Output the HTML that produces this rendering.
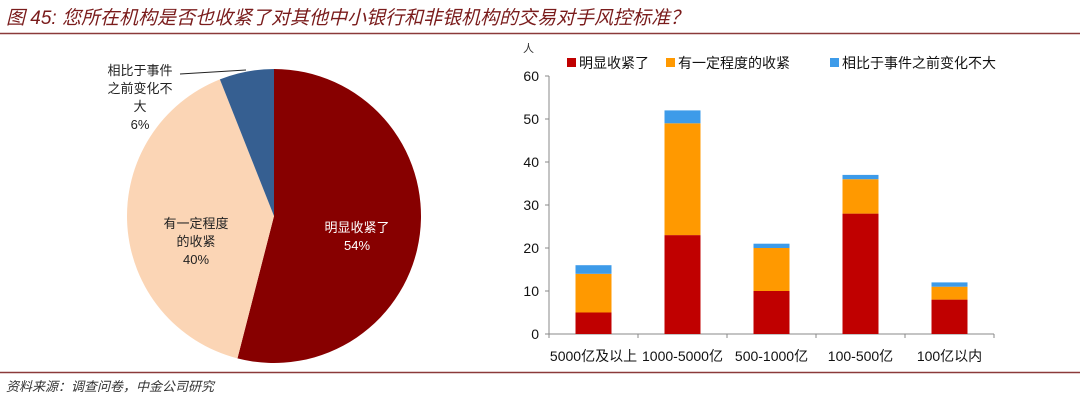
<!DOCTYPE html>
<html><head><meta charset="utf-8"><style>
body{margin:0;width:1080px;height:401px;background:#fff;overflow:hidden;font-family:"Liberation Sans","Noto Sans CJK SC",sans-serif;}
</style></head><body>
<svg width="1080" height="401" xmlns="http://www.w3.org/2000/svg" font-family="Liberation Sans, Noto Sans CJK SC, sans-serif">
<text x="6" y="24" font-size="19" font-style="italic" fill="#7a1c1c">图 45:  您所在机构是否也收紧了对其他中小银行和非银机构的交易对手风控标准？</text>
<line x1="0" y1="33.5" x2="1080" y2="33.5" stroke="#8b3a3a" stroke-width="1.5"/>
<line x1="0" y1="372.5" x2="1080" y2="372.5" stroke="#8b3a3a" stroke-width="1.5"/>
<text x="6" y="391" font-size="13" font-style="italic" fill="#333">资料来源：调查问卷，中金公司研究</text>
<g id="pie"></g>
<g id="bars"></g>
</svg>
<script>
const pieLabels=["明显收紧了","有一定程度的收紧","相比于事件之前变化不大"];
const pieValues=[54,40,6];
const pieColors=["#870000","#fbd5b5","#365f91"];
const cats=["5000亿及以上","1000-5000亿","500-1000亿","100-500亿","100亿以内"];
const sRed=[5,23,10,28,8];
const sOrange=[9,26,10,8,3];
const sBlue=[2,3,1,1,1];
const yTicks=[0,10,20,30,40,50,60];
const NS="http://www.w3.org/2000/svg";
function mk(t,a,p){const e=document.createElementNS(NS,t);for(const k in a)e.setAttribute(k,a[k]);p.appendChild(e);return e;}
// pie
const pie=document.getElementById('pie');
const cx=274,cy=216,R=147;
const tot=pieValues.reduce((a,b)=>a+b,0);
let ang=0;
pieValues.forEach((v,i)=>{
 const a0=ang/tot*2*Math.PI, a1=(ang+v)/tot*2*Math.PI; ang+=v;
 const x0=cx+R*Math.sin(a0),y0=cy-R*Math.cos(a0),x1=cx+R*Math.sin(a1),y1=cy-R*Math.cos(a1);
 const p=mk('path',{d:`M${cx},${cy}L${x0},${y0}A${R},${R} 0 ${a1-a0>Math.PI?1:0} 1 ${x1},${y1}Z`,fill:pieColors[i]},pie);
 
 
});
function lbl(lines,x,y,col,name){const t=mk('text',{x:x,y:y,'font-size':13,fill:col,'text-anchor':'middle'},pie);


lines.forEach((l,i)=>{const s=mk('tspan',{x:x,dy:i?18:0},t);s.textContent=l;});}
lbl(["明显收紧了",pieValues[0]+"%"],357,232,"#fff","slice-label-tightened");
lbl(["有一定程度","的收紧",pieValues[1]+"%"],196,228,"#222","slice-label-somewhat");
lbl(["相比于事件","之前变化不","大",pieValues[2]+"%"],140,75,"#222","slice-label-unchanged");
mk('polyline',{points:"180,74 246,70",stroke:"#222",fill:"none","stroke-width":1},pie);
// bars
const g=document.getElementById('bars');
const X0=549,X1=994,Y0=334,Ytop=76,ymax=60;
const y=v=>Y0-(v/ymax)*(Y0-Ytop);
const step=(X1-X0)/cats.length, bw=36;
const xc=i=>X0+step*(i+0.5);
mk('line',{x1:X0,y1:Ytop,x2:X0,y2:Y0,stroke:"#888"},g);
mk('line',{x1:X0,y1:Y0,x2:X1,y2:Y0,stroke:"#888"},g);
yTicks.forEach(v=>{mk('line',{x1:X0-4,y1:y(v),x2:X0,y2:y(v),stroke:"#888"},g);
 const t=mk('text',{x:X0-10,y:y(v)+5,'font-size':14,'text-anchor':'end',fill:'#111'},g);t.textContent=v;
 
 });
for(let i=0;i<=cats.length;i++)mk('line',{x1:X0+step*i,y1:Y0,x2:X0+step*i,y2:Y0+4,stroke:"#888"},g);
const ut=mk('text',{x:523,y:52,'font-size':11,fill:'#333'},g);ut.textContent="人";


const series=[sRed,sOrange,sBlue],cols=["#c00000","#ff9900","#3d9be9"];
cats.forEach((c,i)=>{let base=0;
 series.forEach((s,k)=>{const r=mk('rect',{x:xc(i)-bw/2,y:y(base+s[i]),width:bw,height:y(base)-y(base+s[i]),fill:cols[k]},g);
 
 
 base+=s[i];});
 const t=mk('text',{x:xc(i),y:361,'font-size':14,'text-anchor':'middle',fill:'#111'},g);t.textContent=c;
 
 
});
const lx=[567,666,830];
pieLabels.forEach((l,k)=>{mk('rect',{x:lx[k],y:58,width:9,height:9,fill:cols[k]},g);
 const t=mk('text',{x:lx[k]+12,y:68,'font-size':14,fill:'#111'},g);t.textContent=l;
 
 });
</script>
</body></html>
